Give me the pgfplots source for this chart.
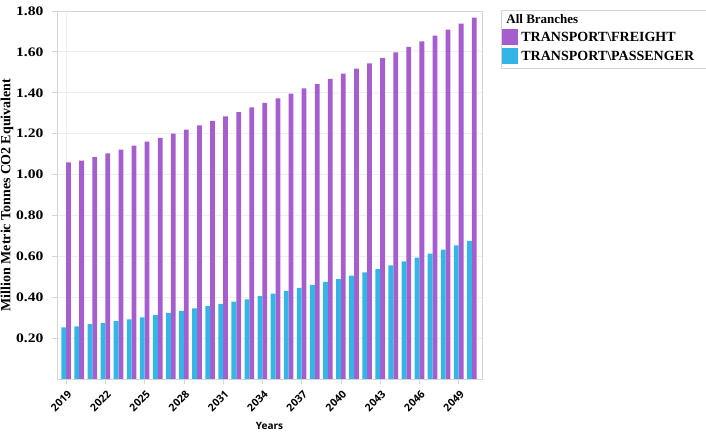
\documentclass[border=0pt]{standalone}
\usepackage{pgfplots}
\pgfplotsset{compat=1.18}
\usepackage{pgfplotstable}
\usepackage{fontspec}
\setmainfont{Liberation Serif}
\newfontfamily\sansb{Open Sans}
\definecolor{freight}{HTML}{A65ECF}
\definecolor{passenger}{HTML}{33B5E6}
\definecolor{axgray}{HTML}{D4D4D4}
\definecolor{gridgray}{HTML}{EEEEEE}

\pgfplotstableread{
year freight passenger
2019 1.059 0.252
2020 1.068 0.258
2021 1.085 0.268
2022 1.104 0.274
2023 1.122 0.283
2024 1.142 0.292
2025 1.161 0.302
2026 1.179 0.312
2027 1.200 0.323
2028 1.220 0.333
2029 1.241 0.345
2030 1.262 0.356
2031 1.285 0.367
2032 1.305 0.379
2033 1.328 0.390
2034 1.350 0.405
2035 1.372 0.418
2036 1.396 0.431
2037 1.421 0.446
2038 1.442 0.460
2039 1.468 0.475
2040 1.494 0.489
2041 1.518 0.506
2042 1.544 0.522
2043 1.570 0.538
2044 1.597 0.556
2045 1.624 0.575
2046 1.652 0.594
2047 1.680 0.613
2048 1.709 0.633
2049 1.738 0.654
2050 1.768 0.675
}\datatable

\begin{document}
\begin{tikzpicture}[x=1pt,y=1pt]
\path[use as bounding box] (0,0) rectangle (706,433);
\begin{axis}[
  at={(57pt,54pt)}, anchor=south west,
  scale only axis, width=425pt, height=368pt,
  xmin=2018.30, xmax=2050.78,
  ymin=0, ymax=1.8,
  ybar=0pt, bar width=4.8pt,
  axis line style={axgray, line width=0.8pt},
  xtick={2019,2022,...,2049},
  ytick={0.2,0.4,...,1.8},
  extra x ticks={2019},
  extra x tick labels={},
  extra x tick style={xmajorgrids=true, major grid style={gridgray, line width=0.8pt}},
  ymajorgrids=true,
  major grid style={gridgray, line width=0.8pt},
  tick align=outside,
  major tick length=5pt,
  tick style={axgray, line width=0.8pt},
  xtick pos=bottom, ytick pos=left,
  /pgf/number format/assume math mode=true,
  yticklabel={\scalebox{1.2}[1]{\bfseries\fontsize{13}{15}\selectfont\pgfmathprintnumber[fixed,fixed zerofill,precision=2,assume math mode=true]{\tick}}},
  yticklabel style={xshift=-5pt},
  xticklabel={\sansb\bfseries\fontsize{10.5}{12}\selectfont\pgfmathprintnumber[fixed,precision=0,1000 sep={},assume math mode=true]{\tick}},
  xticklabel style={rotate=45, anchor=north east, yshift=-1pt},
  xlabel={Years},
  xlabel style={font=\sansb\bfseries\fontsize{10}{12}\selectfont, at={(axis description cs:0.5,0)}, anchor=center, yshift=-46.5pt},
  ylabel={Million Metric Tonnes C\kern-1pt O2 Equivalent},
  ylabel style={font=\bfseries\fontsize{14}{16}\selectfont, at={(axis description cs:-0.1176,0.5)}, anchor=center, rotate=0},
  legend style={at={(axis description cs:1.0447,1.0027)}, anchor=north west,
    draw=axgray, line width=0.8pt, inner xsep=1pt, inner ysep=3.5pt,
    font=\bfseries\fontsize{14}{16}\selectfont,
    cells={anchor=west}, row sep=3pt,
    nodes={inner sep=1pt},
    /tikz/every odd column/.append style={column sep=2pt}},
  legend image code/.code={\path[#1,draw=none] (0pt,-8pt) rectangle (16pt,8pt);},
]
\addlegendimage{empty legend}
\addlegendentry{\hspace{-15pt}\fontsize{13}{15}\selectfont All Branches}
\addplot[fill=freight, draw=none, bar shift=2.4pt] table[x=year, y=freight] {\datatable};
\addlegendentry{TRANSPORT\textbackslash FREIGHT}
\addplot[fill=passenger, draw=none, bar shift=-2.4pt] table[x=year, y=passenger] {\datatable};
\addlegendentry{TRANSPORT\textbackslash PASSENGER\kern12pt\null}
\end{axis}
\end{tikzpicture}
\end{document}
